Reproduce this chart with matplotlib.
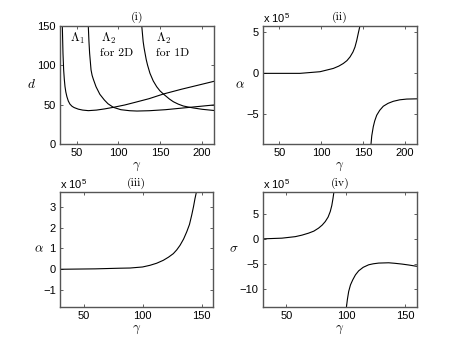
import numpy as np
import matplotlib
matplotlib.use('Agg')
import matplotlib.pyplot as plt

plt.rcParams['font.family'] = ['Liberation Sans', 'DejaVu Sans']
plt.rcParams['mathtext.fontset'] = 'cm'
plt.rcParams['axes.unicode_minus'] = True

# panel (i): d vs gamma
lam1_x = [32.8, 33.6, 34.4, 35.2, 36.0, 37.0, 38.3, 40.0, 42.0, 44.5, 47.0, 52.0,
          57.3, 64.1, 73.8, 83.6, 94.1, 107.9, 120.1, 137.1, 154.2, 176.1, 195.6, 215]
lam1_y = [150, 115, 94, 82, 73, 66, 60, 54.5, 50.5, 47.8, 46.2, 44.2,
          43, 42.3, 43, 44.5, 46.5, 49.5, 52.8, 57.5, 63.4, 69.5, 74.5, 79.5]
lam2d_x = [64.0, 64.8, 65.6, 66.5, 67.3, 68.6, 70.1, 73.3, 77.9, 83.3, 87.7, 94.1,
           103.1, 113.8, 122.5, 137.1, 156.6, 176.1, 190.7, 215]
lam2d_y = [150, 130, 115, 104, 94, 87, 82, 72.6, 63, 55.8, 51, 46.5,
           43.5, 42.2, 41.8, 42.2, 43.5, 45.5, 47, 49.5]
lam1d_x = [128.2, 129.9, 131.0, 132.2, 133.6, 135.2, 138.1, 142.0, 146.2, 150.0,
           154.2, 161.5, 166.2, 172.0, 178.1, 184.0, 190.2, 200.9, 215]
lam1d_y = [150, 130, 122, 115, 107, 100, 89.6, 80, 72.6, 67.5,
           63.4, 57, 53.6, 50.6, 48.2, 46.9, 45.7, 44, 42.5]

# panel (ii): alpha (x 1e5)
a2_left_x = [30, 50, 74.6, 98.6, 114.5, 121, 126.4, 130.8, 134.5, 138.0, 140.4,
             142.5, 144.4, 146.4]
a2_left_y = [0, 0, 0, 0.2, 0.6, 0.88, 1.2, 1.55, 2.0, 2.6, 3.2, 4.0, 4.9, 5.8]
a2_right_x = [159.6, 160.5, 162.3, 164.0, 166.4, 170.0, 174.3, 180.0, 186.3, 194.0,
              202.3, 215]
a2_right_y = [-8.6, -7.6, -6.5, -5.8, -5.1, -4.5, -4.0, -3.65, -3.4, -3.22,
              -3.13, -3.1]

# panel (iii): alpha (x 1e5)
a3_x = [30, 60, 80, 89.4, 100, 106.3, 112, 117.6, 122, 126.1, 129, 131.8, 134.8,
        137.5, 139.8, 141.7, 143.2, 144.5, 145.9]
a3_y = [0, 0.02, 0.05, 0.06, 0.11, 0.19, 0.29, 0.43, 0.58, 0.75, 0.93, 1.15, 1.45,
        1.8, 2.15, 2.6, 3.0, 3.4, 3.76]

# panel (iv): sigma (x 1e5)
s4_left_x = [30, 46.2, 57.4, 63, 68.6, 73, 77.0, 80, 82.6, 85, 86.8, 88.1, 89.1, 89.9]
s4_left_y = [0.06, 0.2, 0.5, 0.8, 1.2, 1.6, 2.2, 2.8, 3.5, 4.4, 5.5, 6.7, 8.1, 9.44]
s4_right_x = [100.3, 101.2, 102.3, 103.8, 105.7, 108.0, 110.7, 114.5, 119.1, 123.0,
              127.5, 135.9, 141.0, 147.2, 153.0, 158.4, 160]
s4_right_y = [-13.7, -12.0, -10.4, -9.1, -8.1, -7.1, -6.3, -5.6, -5.1, -4.9,
              -4.76, -4.7, -4.8, -4.96, -5.15, -5.36, -5.4]

fig = plt.figure(figsize=(4.6, 3.46), dpi=100)
pos = [[0.1304, 0.5838, 0.3348, 0.3419],
       [0.5711, 0.5838, 0.3361, 0.3419],
       [0.1304, 0.1127, 0.3333, 0.3332],
       [0.5711, 0.1127, 0.3361, 0.3332]]
axs = [fig.add_axes(p) for p in pos]

serif = 'cmr10'
lc = 'black'
lw = 0.8


def style(ax, title, ylabel, ylpad):
    ax.tick_params(direction='in', top=True, right=True, length=2.5, width=0.6,
                   labelsize=8, pad=3, colors='#444444', labelcolor='black')
    for s in ax.spines.values():
        s.set_color('#555555')
        s.set_linewidth(1.0)
    ax.set_title(title, family=serif, fontsize=8.5, pad=4)
    ax.set_xlabel(r'$\gamma$', fontsize=9.5, labelpad=2)
    ax.set_ylabel(ylabel, fontsize=9.5, rotation=0, labelpad=ylpad, va='center')


ax = axs[0]
ax.plot(lam1_x, lam1_y, color=lc, lw=lw)
ax.plot(lam2d_x, lam2d_y, color=lc, lw=lw)
ax.plot(lam1d_x, lam1d_y, color=lc, lw=lw)
ax.set_xlim(30, 215)
ax.set_ylim(0, 150)
ax.set_xticks([50, 100, 150, 200])
ax.set_yticks([0, 50, 100, 150])
ax.text(42, 134, r'$\Lambda_1$', fontsize=9, va='center')
ax.text(79, 134, r'$\Lambda_2$', fontsize=9, va='center')
ax.text(78, 115, 'for 2D', family=serif, fontsize=8.5, va='center')
ax.text(145.4, 134, r'$\Lambda_2$', fontsize=9, va='center')
ax.text(145.4, 115, 'for 1D', family=serif, fontsize=8.5, va='center')
style(ax, '(i)', r'$d$', 4)

ax = axs[1]
ax.plot(a2_left_x, a2_left_y, color=lc, lw=lw)
ax.plot(a2_right_x, a2_right_y, color=lc, lw=lw)
ax.set_xlim(30, 215)
ax.set_ylim(-8.6, 5.8)
ax.set_xticks([50, 100, 150, 200])
ax.set_yticks([-5, 0, 5])
style(ax, '(ii)', r'$\alpha$', 4)

ax = axs[2]
ax.plot(a3_x, a3_y, color=lc, lw=lw)
ax.set_xlim(30, 160)
ax.set_ylim(-1.81, 3.72)
ax.set_xticks([50, 100, 150])
ax.set_yticks([-1, 0, 1, 2, 3])
style(ax, '(iii)', r'$\alpha$', 3)

ax = axs[3]
ax.plot(s4_left_x, s4_left_y, color=lc, lw=lw)
ax.plot(s4_right_x, s4_right_y, color=lc, lw=lw)
ax.set_xlim(30, 160)
ax.set_ylim(-13.5, 9.44)
ax.set_xticks([50, 100, 150])
ax.set_yticks([-10, -5, 0, 5])
style(ax, '(iv)', r'$\sigma$', 4)

for ax in axs[1:]:
    ax.text(0, 1.01, r'x 10$^{\mathregular{5}}$', transform=ax.transAxes,
            fontsize=8, va='bottom', ha='left')

fig.savefig('out.png', dpi=100)
